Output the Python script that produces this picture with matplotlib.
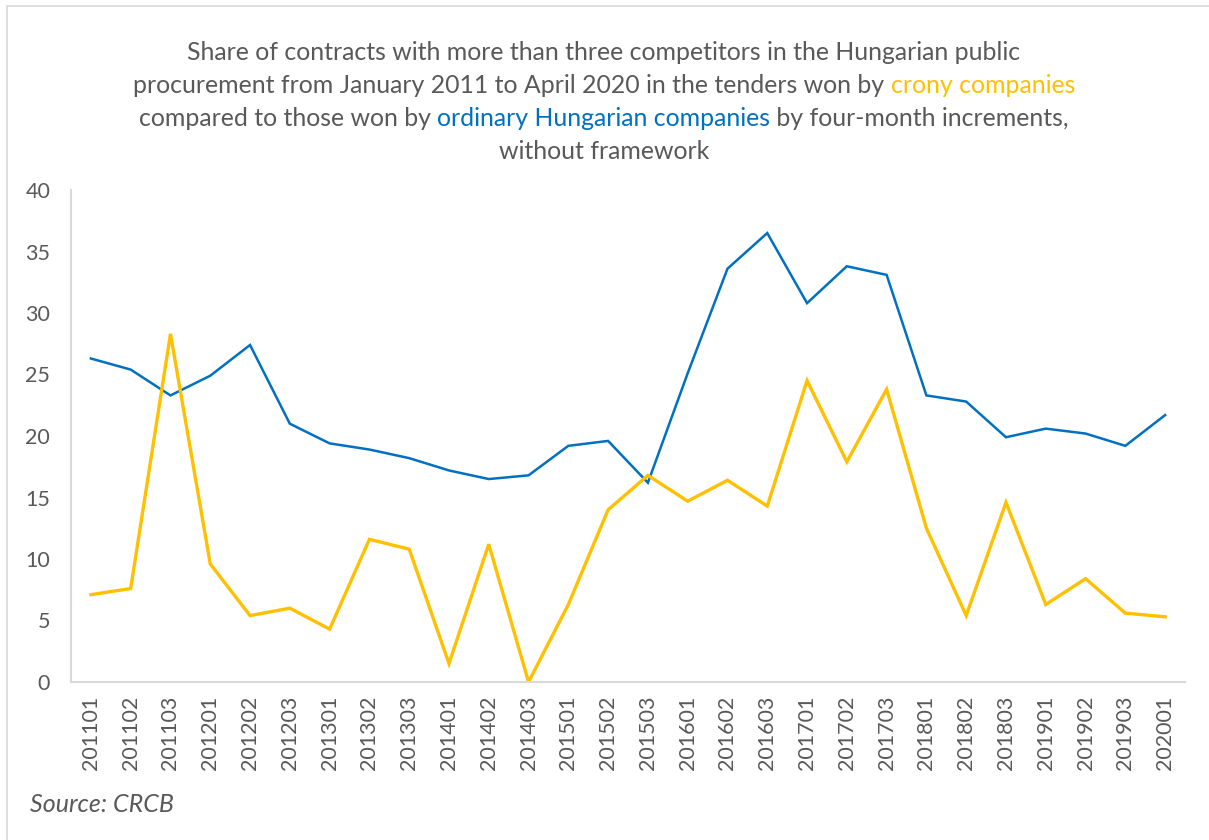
"""
Share of contracts with more than three competitors, crony vs ordinary companies.
"""

import matplotlib
matplotlib.use('Agg')
import matplotlib.pyplot as plt
from matplotlib.patches import Rectangle

periods = [
    '201101', '201102', '201103', '201201', '201202', '201203', '201301',
    '201302', '201303', '201401', '201402', '201403', '201501', '201502',
    '201503', '201601', '201602', '201603', '201701', '201702', '201703',
    '201801', '201802', '201803', '201901', '201902', '201903', '202001',
]

ordinary = [
    26.3, 25.4, 23.3, 24.9, 27.4, 21.0, 19.4, 18.9, 18.2, 17.2, 16.5, 16.8,
    19.2, 19.6, 16.2, 25.1, 33.6, 36.5, 30.8, 33.8, 33.1, 23.3, 22.8, 19.9,
    20.6, 20.2, 19.2, 21.7,
]

crony = [
    7.1, 7.6, 28.3, 9.6, 5.4, 6.0, 4.3, 11.6, 10.8, 1.5, 11.2, 0.0,
    6.3, 14.0, 16.8, 14.7, 16.4, 14.3, 24.5, 17.9, 23.8, 12.5, 5.4, 14.6,
    6.3, 8.4, 5.6, 5.3,
]

BLUE = '#0070C0'
GOLD = '#FFC000'
TEXT = '#595959'
AXIS = '#D9D9D9'
FONT = 'Lato'

# title lines, each a list of (text, colour) pieces
title_lines = [
    [('Share of contracts with more than three competitors in the Hungarian public', TEXT)],
    [('procurement from January 2011 to April 2020 in the tenders won by ', TEXT),
     ('crony companies', GOLD)],
    [('compared to those won by ', TEXT), ('ordinary Hungarian companies', BLUE),
     (' by four-month increments,', TEXT)],
    [('without framework', TEXT)],
]

W, H = 1209, 840
fig = plt.figure(figsize=(W / 100, H / 100), dpi=100)
fig.patch.set_facecolor('white')

# light chart border
fig.add_artist(Rectangle((7 / W, -0.01), 1.02, 1 - 6 / H + 0.01, transform=fig.transFigure,
                         fill=False, edgecolor=AXIS, linewidth=1.2))

ax = fig.add_axes([71 / W, 1 - 682 / H, (1185 - 71) / W, (682 - 190) / H])
x = list(range(len(periods)))
ax.plot(x, ordinary, color=BLUE, linewidth=1.8, solid_joinstyle='miter')
ax.plot(x, crony, color=GOLD, linewidth=2.4, solid_joinstyle='miter')

ax.set_xlim(-0.5, len(periods) - 0.5)
ax.set_ylim(0, 40)
ax.set_yticks(range(0, 41, 5))
ax.set_xticks(x)
ax.set_xticklabels(periods, rotation=90, fontfamily=FONT, fontsize=15.5, color=TEXT)
for lbl in ax.get_yticklabels():
    lbl.set_fontfamily(FONT)
    lbl.set_fontsize(15.5)
    lbl.set_color(TEXT)
ax.tick_params(axis='both', length=0)
ax.tick_params(axis='y', pad=15)
ax.tick_params(axis='x', pad=10)
for side in ('top', 'right'):
    ax.spines[side].set_visible(False)
for side in ('left', 'bottom'):
    ax.spines[side].set_color(AXIS)
    ax.spines[side].set_linewidth(1.5)
ax.set_clip_on(False)

# multi-colour centred title
renderer = fig.canvas.get_renderer()
baselines = [60, 93, 126, 159]
cx = 604
for pieces, yb in zip(title_lines, baselines):
    texts = []
    for s, c in pieces:
        t = fig.text(0, 1 - yb / H, s, color=c, fontsize=17.9, fontfamily=FONT,
                     ha='left', va='baseline')
        texts.append(t)
    widths = [t.get_window_extent(renderer).width for t in texts]
    left = cx - sum(widths) / 2
    for t, w in zip(texts, widths):
        t.set_x(left / W)
        left += w

fig.text(30 / W, 1 - 805 / H, 'Source: CRCB', color=TEXT, fontsize=18,
         fontfamily=FONT, style='italic', ha='left', va='center')

fig.savefig('out.png', dpi=100)
